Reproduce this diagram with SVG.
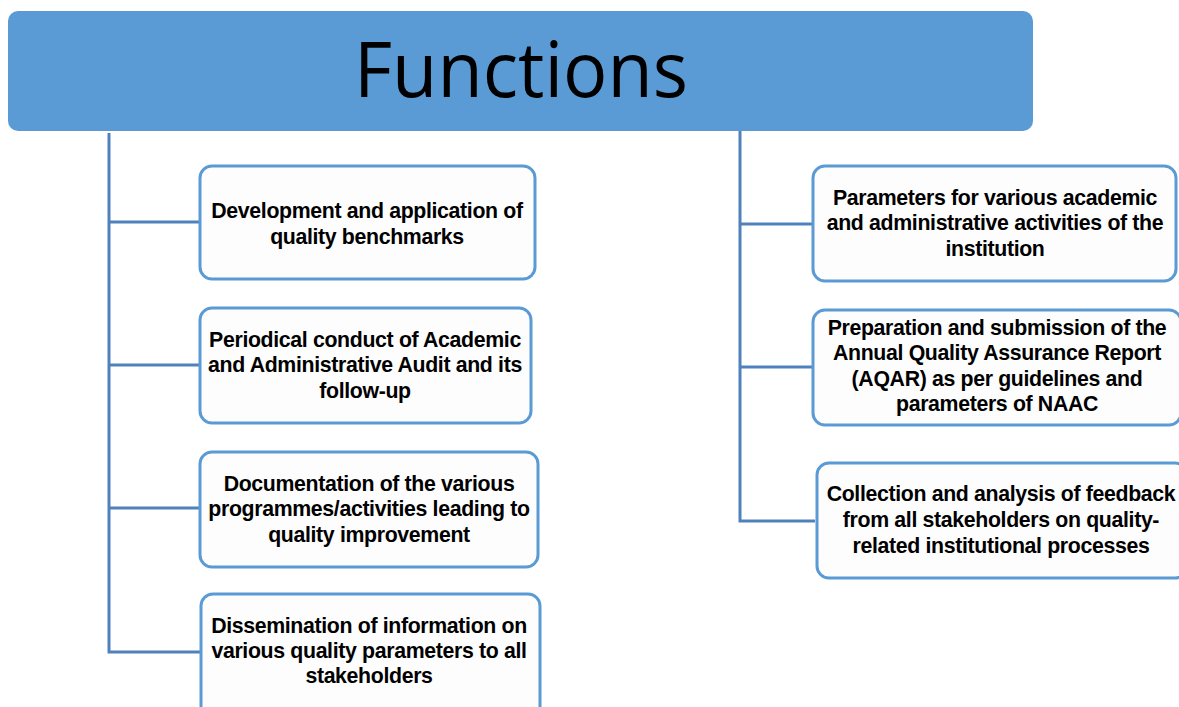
<svg xmlns="http://www.w3.org/2000/svg" width="1179" height="707" viewBox="0 0 1179 707">
<style>
.box{fill:#FDFDFD;stroke:#5B9BD5;stroke-width:3}
.conn{stroke:#4F81BD;stroke-width:3;fill:none}
.t{font-family:"Liberation Sans",Arial,sans-serif;font-weight:bold;font-size:21.3px;fill:#000;text-anchor:middle;letter-spacing:-0.35px}
.title{font-family:"Open Sans","Noto Sans",sans-serif;font-size:76px;fill:#000;text-anchor:middle}
</style>
<rect width="1179" height="707" fill="#FFFFFF"/>
<g id="header">
<rect x="8" y="11" width="1025" height="120" rx="10" fill="#5B9BD5"/>
<text class="title" x="521" y="97" textLength="334" lengthAdjust="spacingAndGlyphs">Functions</text>
</g>
<g id="connectors">
<path class="conn" d="M109,133 V652 H200 M109,222 H200 M109,365 H200 M109,508 H200"/>
<path class="conn" d="M740,131 V521 H815 M740,224 H813 M740,367 H813"/>
</g>
<g id="n1">
<rect class="box" x="200" y="166" width="335" height="113" rx="12"/>
<text class="t" x="367" y="218">Development and application of</text>
<text class="t" x="367" y="244">quality benchmarks</text>
</g>
<g id="n2">
<rect class="box" x="200" y="308" width="331" height="115" rx="12"/>
<text class="t" x="365" y="347">Periodical conduct of Academic</text>
<text class="t" x="365" y="372">and Administrative Audit and its</text>
<text class="t" x="365" y="398">follow-up</text>
</g>
<g id="n3">
<rect class="box" x="200" y="452" width="338" height="115" rx="12"/>
<text class="t" x="369" y="491">Documentation of the various</text>
<text class="t" x="369" y="516">programmes/activities leading to</text>
<text class="t" x="369" y="542">quality improvement</text>
</g>
<g id="n4">
<rect class="box" x="201" y="594" width="339" height="125" rx="12"/>
<text class="t" x="369" y="633">Dissemination of information on</text>
<text class="t" x="369" y="658">various quality parameters to all</text>
<text class="t" x="369" y="683">stakeholders</text>
</g>
<g id="n5">
<rect class="box" x="813" y="166" width="363" height="115" rx="12"/>
<text class="t" x="995" y="205">Parameters for various academic</text>
<text class="t" x="995" y="230">and administrative activities of the</text>
<text class="t" x="995" y="256">institution</text>
</g>
<g id="n6">
<rect class="box" x="813" y="310" width="368" height="115" rx="12"/>
<text class="t" x="997" y="335">Preparation and submission of the</text>
<text class="t" x="997" y="360">Annual Quality Assurance Report</text>
<text class="t" x="997" y="386">(AQAR) as per guidelines and</text>
<text class="t" x="997" y="411">parameters of NAAC</text>
</g>
<g id="n7">
<rect class="box" x="817" y="463" width="370" height="115" rx="12"/>
<text class="t" x="1001" y="501">Collection and analysis of feedback</text>
<text class="t" x="1001" y="527">from all stakeholders on quality-</text>
<text class="t" x="1001" y="553">related institutional processes</text>
</g>
</svg>
